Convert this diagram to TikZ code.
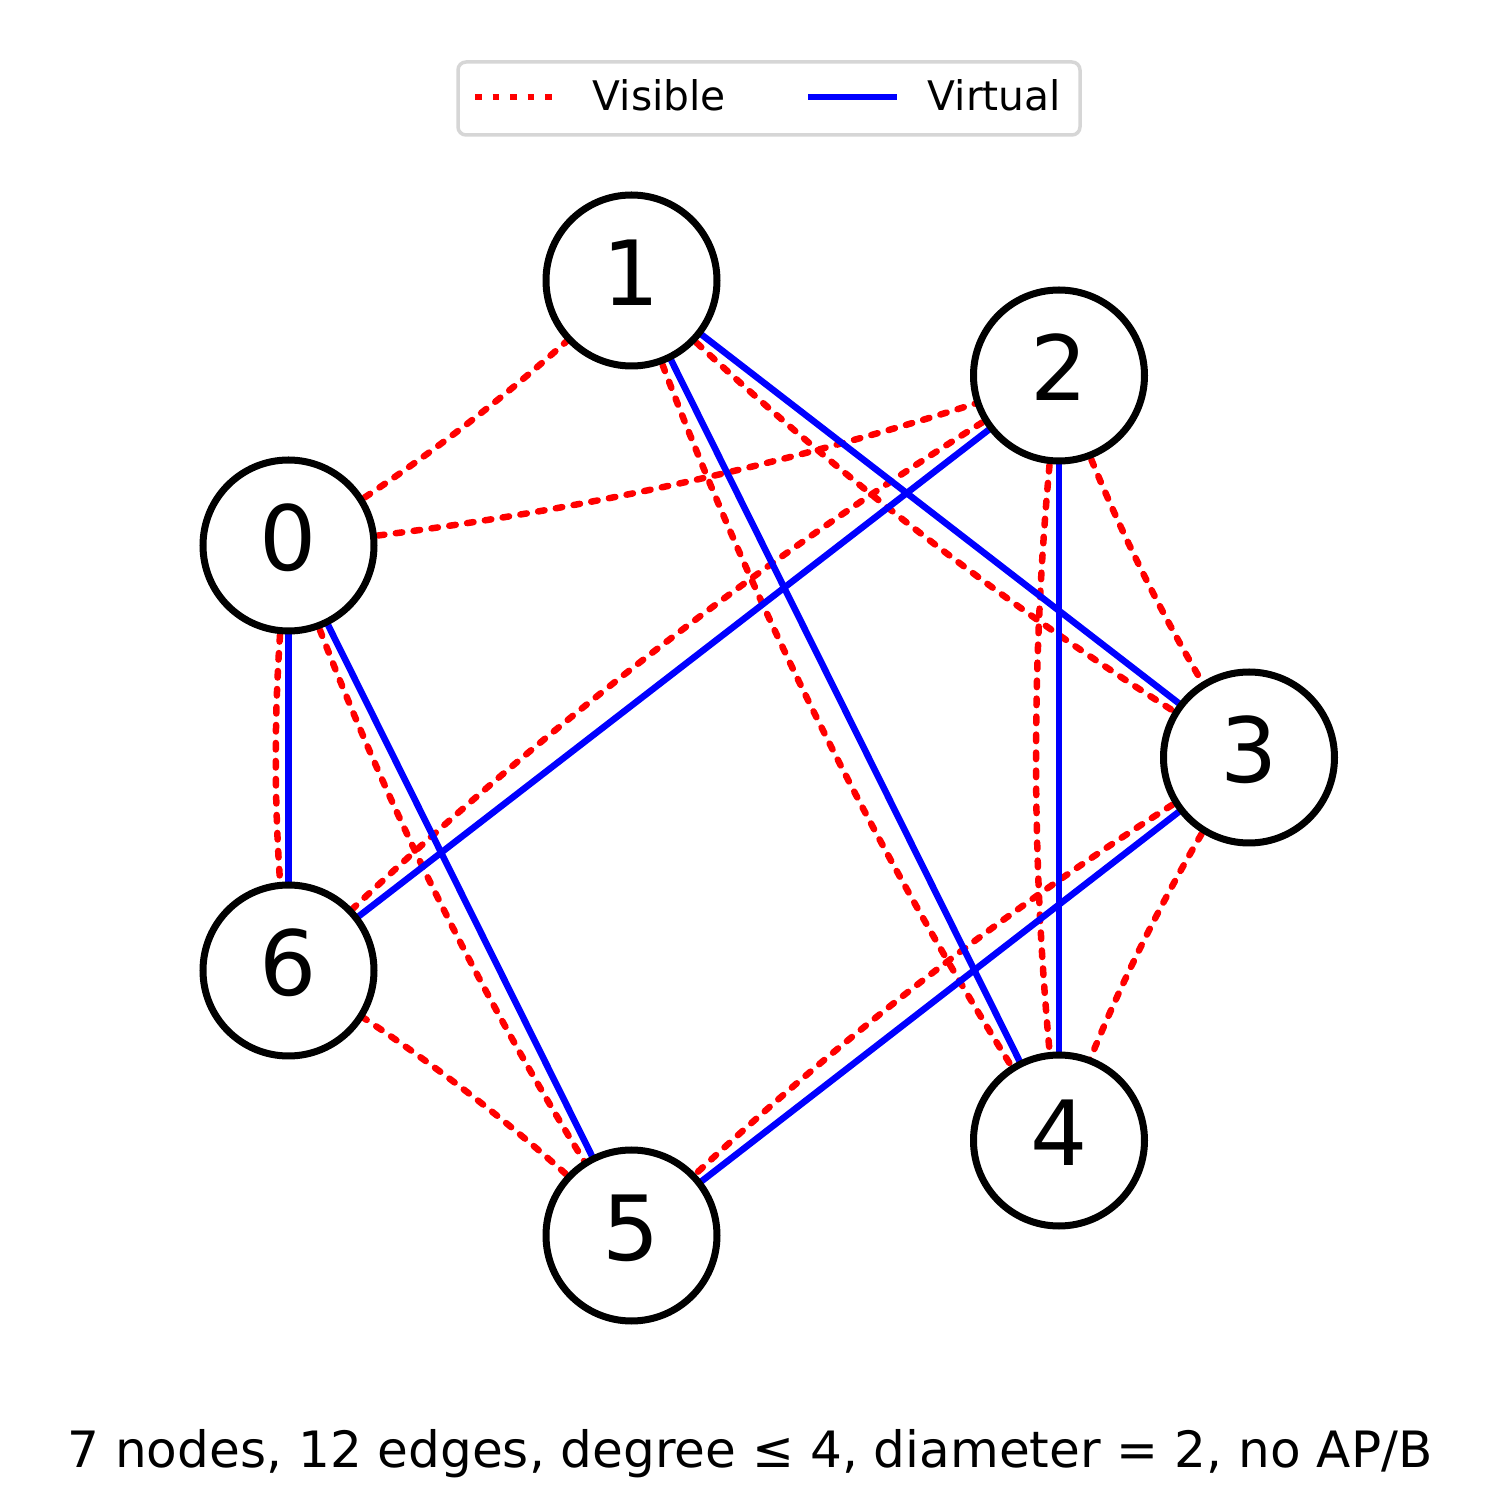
\documentclass[tikz,border=0pt]{standalone}
\usepackage{fontspec}
\setmainfont{DejaVu Sans}
\usetikzlibrary{calc,backgrounds}
\begin{document}
\begin{tikzpicture}[
  vnode/.style={circle,draw=black,line width=0.07cm,fill=white,minimum size=1.71cm,inner sep=0pt,text height=0.5cm,text depth=0pt,font=\fontsize{25.6}{30}\selectfont},
  visedge/.style={draw=red,line width=0.065cm,line cap=round,dash pattern=on 0.065cm off 0.115cm},
  virtedge/.style={draw=blue,line width=0.065cm},
  legframe/.style={draw=black!16,line width=0.035cm,rounded corners=0.08cm,fill=white},
  legtext/.style={anchor=base west,inner sep=0pt,font=\fontsize{11.6}{14}\selectfont},
]
\useasboundingbox (0,0) rectangle (15,15);

% nodes
\node[vnode] (n0) at (2.885, 9.545) {0};
\node[vnode] (n1) at (6.315,12.195) {1};
\node[vnode] (n2) at (10.59,11.245) {2};
\node[vnode] (n3) at (12.49, 7.425) {3};
\node[vnode] (n4) at (10.59, 3.595) {4};
\node[vnode] (n5) at (6.315, 2.645) {5};
\node[vnode] (n6) at (2.885, 5.295) {6};

% edges
\begin{scope}[on background layer]
\foreach \a/\b in {0/1,0/2,0/5,0/6,1/3,1/4,2/3,2/4,2/6,3/4,3/5,5/6}{
  \coordinate (m\a\b) at ($(n\a.center)!0.5!(n\b.center)$);
  \coordinate (c\a\b) at ($(m\a\b)!0.12!-90:(n\b.center)$);
  \draw[visedge] (n\a.center) .. controls ($(n\a.center)!2/3!(c\a\b)$) and ($(n\b.center)!2/3!(c\a\b)$) .. (n\b.center);
}
\foreach \a/\b in {0/5,0/6,1/3,1/4,2/4,2/6,3/5}{
  \draw[virtedge] (n\a.center) -- (n\b.center);
}
\end{scope}

% legend
\draw[legframe] (4.58,13.65) rectangle (10.80,14.38);
\draw[draw=red,line width=0.065cm,dash pattern=on 0.065cm off 0.11cm] (4.75,14.03) -- (5.53,14.03);
\node[legtext] (lvis) at (5.92,13.89) {Visible};
\draw[virtedge] (8.08,14.03) -- (8.97,14.03);
\node[legtext] (lvir) at (9.27,13.89) {Virtual};

% caption
\node[font=\fontsize{14.25}{17}\selectfont,anchor=base,inner sep=0pt] (cap) at (7.5,0.32) {7 nodes, 12 edges, degree ≤ 4, diameter = 2, no AP/B};
\end{tikzpicture}
\end{document}
